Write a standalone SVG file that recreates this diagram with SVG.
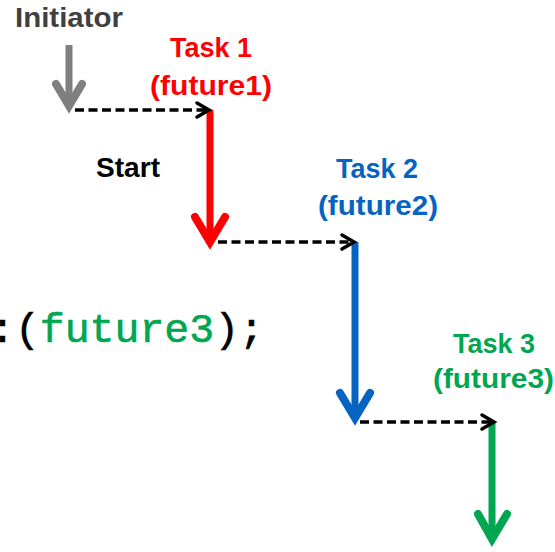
<svg xmlns="http://www.w3.org/2000/svg" width="555" height="552" viewBox="0 0 555 552">
<style>
.lbl{font-family:"Liberation Sans",Arial,sans-serif;font-weight:bold;font-size:27px}
.code{font-family:"Liberation Mono","DejaVu Sans Mono",monospace;font-size:41.5px;fill:#000;stroke:#000;stroke-width:0.6}
.flow{fill:none;stroke-width:7;stroke-linecap:butt;stroke-linejoin:round}
.head{fill:none;stroke-width:8;stroke-linecap:round;stroke-linejoin:miter}
.dash{fill:none;stroke:#000;stroke-width:3.5;stroke-dasharray:9 4.5}
.chev{fill:none;stroke:#000;stroke-width:3.5;stroke-linecap:round;stroke-linejoin:miter}
</style>
<rect width="555" height="552" fill="#fff"/>
<g id="initiator">
<text class="lbl" x="15" y="27" fill="#404040" textLength="108" lengthAdjust="spacingAndGlyphs">Initiator</text>
<path class="flow" stroke="#7f7f7f" d="M69 45V104"/>
<path class="head" stroke="#7f7f7f" d="M56 84L69 106L82 84"/>
</g>
<g id="task1">
<text class="lbl" x="170" y="57" fill="#ff0000" textLength="82" lengthAdjust="spacingAndGlyphs">Task 1</text>
<text class="lbl" x="150" y="95" fill="#ff0000" textLength="122" lengthAdjust="spacingAndGlyphs">(future1)</text>
<path class="flow" stroke="#ff0000" d="M210 110V238"/>
<path class="head" stroke="#ff0000" d="M195 217L210 242L225 217"/>
</g>
<g id="start">
<text class="lbl" x="96" y="177" fill="#000" textLength="64" lengthAdjust="spacingAndGlyphs">Start</text>
</g>
<g id="task2">
<text class="lbl" x="336" y="178" fill="#0563c1" textLength="82" lengthAdjust="spacingAndGlyphs">Task 2</text>
<text class="lbl" x="318" y="215" fill="#0563c1" textLength="120" lengthAdjust="spacingAndGlyphs">(future2)</text>
<path class="flow" stroke="#0563c1" d="M355 242V414"/>
<path class="head" stroke="#0563c1" d="M340 393L355 418L370 393"/>
</g>
<g id="task3">
<text class="lbl" x="453" y="353" fill="#00a650" textLength="82" lengthAdjust="spacingAndGlyphs">Task 3</text>
<text class="lbl" x="433" y="388" fill="#00a650" textLength="121" lengthAdjust="spacingAndGlyphs">(future3)</text>
<path class="flow" stroke="#00a650" d="M492 422V536"/>
<path class="head" stroke="#00a650" d="M478 514L492 539L507 514"/>
</g>
<g id="code">
<text class="code" x="-10" y="342">:(<tspan fill="#00a650" stroke="#00a650">future3</tspan>);</text>
</g>
<g id="connectors">
<path class="dash" d="M75 110H207"/>
<path class="chev" d="M197 103L209 110L197 117"/>
<path class="dash" d="M218 242H352"/>
<path class="chev" d="M342 235L354 242L342 249"/>
<path class="dash" d="M360 422H492"/>
<path class="chev" d="M482 415L494 422L482 429"/>
</g>
</svg>
